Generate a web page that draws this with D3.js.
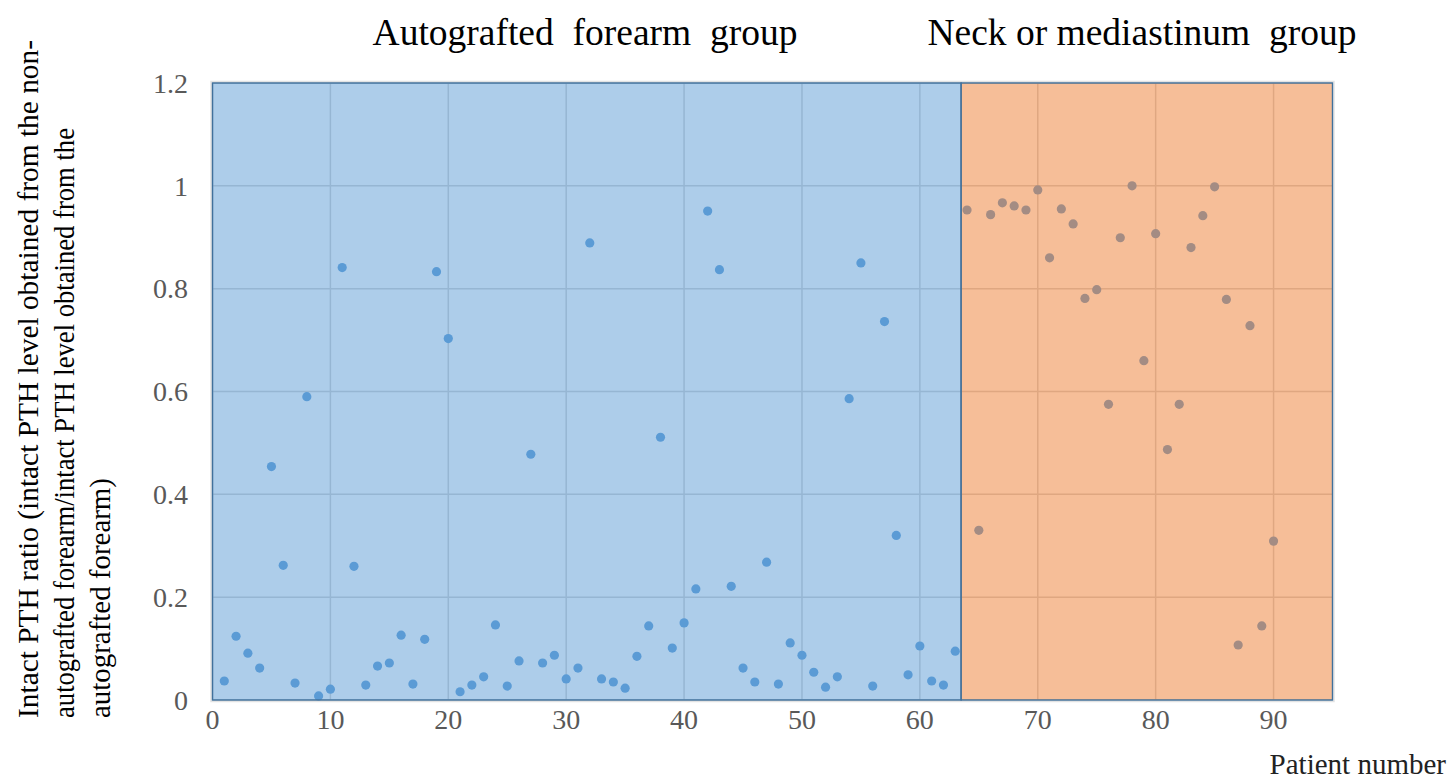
<!DOCTYPE html>
<html>
<head>
<meta charset="utf-8">
<script src="https://cdn.jsdelivr.net/npm/d3@7"></script>
<style>
  html, body { margin: 0; padding: 0; background: #ffffff; }
  svg { display: block; }
</style>
</head>
<body>
<script>
// ---- Data ----
const forearmPatients = d3.range(1, 64);
const forearmRatio = [
  0.037, 0.124, 0.091, 0.062, 0.454, 0.262, 0.033, 0.590, 0.008, 0.021,
  0.841, 0.260, 0.029, 0.066, 0.072, 0.126, 0.031, 0.118, 0.833, 0.703,
  0.016, 0.029, 0.045, 0.146, 0.027, 0.076, 0.478, 0.072, 0.087, 0.041,
  0.062, 0.889, 0.041, 0.035, 0.023, 0.085, 0.144, 0.511, 0.101, 0.150,
  0.216, 0.951, 0.837, 0.221, 0.062, 0.035, 0.268, 0.031, 0.111, 0.087,
  0.054, 0.025, 0.045, 0.586, 0.850, 0.027, 0.736, 0.320, 0.049, 0.105,
  0.037, 0.029, 0.095
];
const neckPatients = d3.range(64, 91);
const neckRatio = [
  0.953, 0.330, 0.944, 0.967, 0.961, 0.953, 0.992, 0.860, 0.955, 0.926,
  0.781, 0.798, 0.575, 0.899, 1.000, 0.660, 0.907, 0.487, 0.575, 0.880,
  0.942, 0.998, 0.779, 0.107, 0.728, 0.144, 0.309
];
const xTicks = [0, 10, 20, 30, 40, 50, 60, 70, 80, 90];
const yTicks = [0, 0.2, 0.4, 0.6, 0.8, 1, 1.2];
const groupTitles = ["Autografted  forearm  group", "Neck or mediastinum  group"];
const groupSpans = [[0, 63.5], [63.5, 95]];
const groupColors = ["#5b9bd5", "#ed7d31"];
const yTitleLines = [
  "Intact PTH ratio (intact PTH level obtained from the non-",
  "autografted forearm/intact PTH level obtained from the",
  "autografted forearm)"
];
const xTitle = "Patient number";

// ---- Layout ----
const W = 1451, H = 783;
const x = d3.scaleLinear().domain([0, 95]).range([212.5, 1332.5]);
const y = d3.scaleLinear().domain([0, 1.2]).range([700, 83]);

const svg = d3.select("body").append("svg").attr("width", W).attr("height", H);
const serif = "'Liberation Serif', 'Times New Roman', serif";

// outer faint frame of the plot area
svg.append("rect")
  .attr("x", x(0) - 1.5).attr("y", y(1.2) - 1.5)
  .attr("width", x(95) - x(0) + 3).attr("height", y(0) - y(1.2) + 3)
  .attr("fill", "none").attr("stroke", "#e3e3e3").attr("stroke-width", 1.5);

// gridlines
const grid = svg.append("g");
grid.selectAll("line.h").data(yTicks).join("line")
  .attr("x1", x(0)).attr("x2", x(95))
  .attr("y1", d => y(d)).attr("y2", d => y(d))
  .attr("stroke", "#d0d0d0").attr("stroke-width", 1.5);
grid.selectAll("line.v").data(xTicks).join("line")
  .attr("x1", d => x(d)).attr("x2", d => x(d))
  .attr("y1", y(0)).attr("y2", y(1.2))
  .attr("stroke", "#d0d0d0").attr("stroke-width", 1.5);

// points
const pts = svg.append("g");
pts.selectAll("circle.a").data(forearmPatients).join("circle")
  .attr("cx", (d) => x(d)).attr("cy", (d, i) => y(forearmRatio[i]))
  .attr("r", 4.6).attr("fill", "#5b9bd5");
pts.selectAll("circle.b").data(neckPatients).join("circle")
  .attr("cx", (d) => x(d)).attr("cy", (d, i) => y(neckRatio[i]))
  .attr("r", 4.6).attr("fill", "#5b9bd5");

// translucent group rectangles over everything
svg.append("g").selectAll("rect").data(groupSpans).join("rect")
  .attr("x", d => x(d[0])).attr("y", y(1.2))
  .attr("width", d => x(d[1]) - x(d[0])).attr("height", y(0) - y(1.2))
  .attr("fill", (d, i) => groupColors[i]).attr("fill-opacity", 0.5)
  .attr("stroke", "#41719c").attr("stroke-width", 1.4);

// axis tick labels
svg.append("g").selectAll("text").data(yTicks).join("text")
  .attr("x", 188).attr("y", d => y(d)).attr("dy", "0.35em")
  .attr("text-anchor", "end")
  .attr("font-family", serif).attr("font-size", 28).attr("fill", "#595959")
  .text(d => d3.format("~g")(d));
svg.append("g").selectAll("text").data(xTicks).join("text")
  .attr("x", d => x(d)).attr("y", 729)
  .attr("text-anchor", "middle")
  .attr("font-family", serif).attr("font-size", 28).attr("fill", "#595959")
  .text(d => d);

// group titles
svg.append("g").selectAll("text").data(groupTitles).join("text")
  .attr("x", (d, i) => [585, 1142][i]).attr("y", 45)
  .attr("text-anchor", "middle")
  .attr("font-family", serif).attr("font-size", 37.5).attr("fill", "#000")
  .style("white-space", "pre")
  .text(d => d);

// x title
svg.append("text")
  .attr("x", 1446).attr("y", 774).attr("text-anchor", "end")
  .attr("font-family", serif).attr("font-size", 29).attr("fill", "#222")
  .text(xTitle);

// y title (rotated, 3 lines, bottom-aligned)
const yLens = [678, 590, 240];
const yt = svg.append("g");
yTitleLines.forEach((t, i) => {
  yt.append("text")
    .attr("transform", `translate(${38 + i * 36},718) rotate(-90)`)
    .attr("text-anchor", "start")
    .attr("font-family", serif).attr("font-size", 29).attr("fill", "#000")
    .attr("textLength", yLens[i]).attr("lengthAdjust", "spacingAndGlyphs")
    .text(t);
});
</script>
</body>
</html>
